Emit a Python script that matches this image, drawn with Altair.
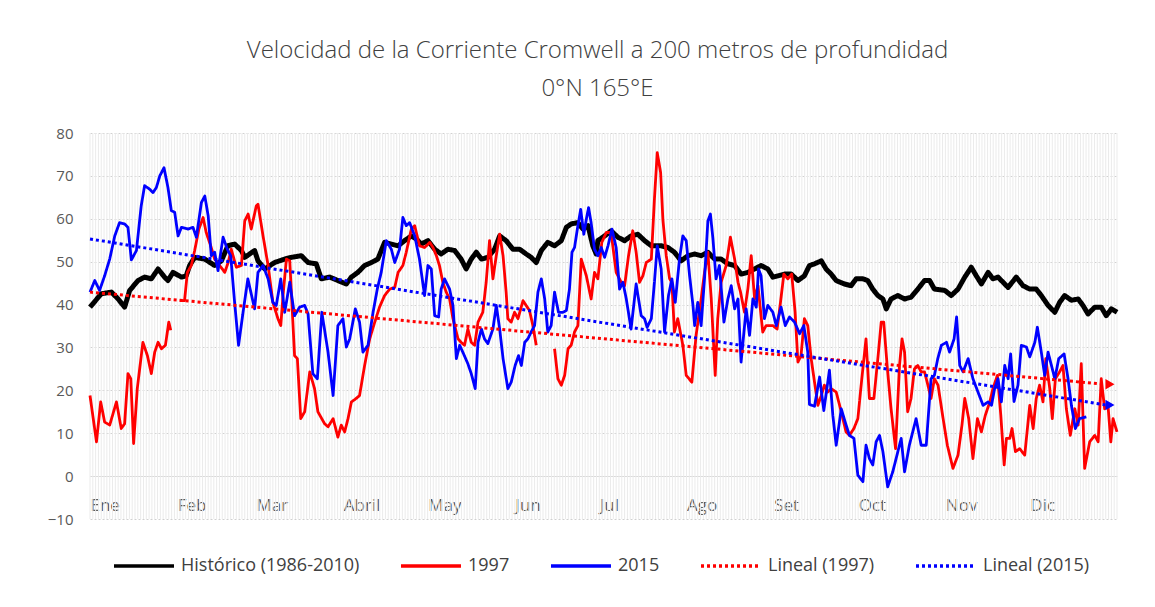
import altair as alt
import pandas as pd

# ---------------- data ----------------
month_names = ["Ene", "Feb", "Mar", "Abril", "May", "Jun", "Jul", "Ago", "Set", "Oct", "Nov", "Dic"]
month_start = [0, 31, 59, 90, 120, 151, 181, 212, 243, 273, 304, 334]
y_ticks = [-10, 0, 10, 20, 30, 40, 50, 60, 70, 80]
series_names = ["Histórico (1986-2010)", "1997", "2015", "Lineal (1997)", "Lineal (2015)"]
series_colors = ["#000000", "#ff0000", "#0000ff", "#ff0000", "#0000ff"]

hist_days = [0, 4.0, 7.6, 10.0, 12.3, 14.1, 17.1, 19.4, 21.8, 24.2, 26.5, 27.7, 29.5, 32.5, 34.2, 35.4,
             37.2, 40.8, 44.3, 46.7, 49.0, 51.4, 53.8, 55.0, 58.5, 59.7, 62.1, 65.6, 69.2, 71.5, 75.1,
             77.5, 80.4, 82.2, 85.2, 88.1, 91.1, 92.9, 95.2, 97.6, 100.0, 102.3, 104.7, 107.1, 109.5,
             111.8, 114.2, 116.0, 117.7, 120.1, 122.5, 124.8, 127.2, 129.6, 131.9, 133.7, 135.5, 137.3,
             139.1, 141.4, 143.8, 145.6, 147.9, 150.3, 152.7, 155.0, 156.8, 158.6, 160.4, 162.7, 165.1,
             167.5, 169.3, 171.0, 173.4, 175.2, 177.0, 178.7, 179.9, 180.5, 182.9, 185.2, 187.6, 190.0,
             192.3, 194.7, 197.1, 199.5, 203.0, 205.4, 207.7, 210.1, 212.5, 214.9, 217.2, 219.6, 222.0,
             224.3, 226.7, 229.1, 231.4, 233.8, 236.2, 238.5, 240.9, 242.7, 244.5, 246.8, 249.2, 251.6,
             253.9, 255.7, 257.5, 259.9, 261.6, 263.4, 265.2, 268.1, 270.5, 272.3, 274.7, 276.4, 278.2,
             280.0, 281.8, 283.0, 284.7, 287.1, 289.5, 291.8, 294.2, 296.6, 298.4, 300.1, 303.8, 306.1,
             308.5, 310.9, 313.2, 315.0, 316.8, 319.2, 320.9, 322.7, 324.5, 326.3, 329.2, 331.6, 334.0,
             336.3, 338.1, 340.5, 342.9, 344.6, 346.4, 348.8, 351.2, 352.9, 354.7, 357.1, 359.4, 361.2,
             363.0, 365.0]
hist_vals = [39.4, 42.5, 42.9, 41.3, 39.4, 43.3, 45.6, 46.4, 46.0, 48.3, 46.4, 45.6, 47.5, 46.4, 46.7, 49.1,
             51.0, 50.6, 49.1, 50.2, 53.7, 54.1, 52.6, 51.0, 52.6, 50.2, 48.3, 49.8, 50.6, 51.0, 51.4,
             49.8, 49.5, 46.0, 46.4, 45.6, 44.8, 46.4, 47.5, 49.1, 49.8, 50.6, 54.5, 54.1, 53.7,
             54.9, 56.0, 55.3, 54.1, 54.9, 52.9, 51.8, 52.9, 52.6, 50.6, 48.3, 50.6, 52.2,
             50.6, 51.0, 52.9, 56.0, 54.9, 52.9, 52.9, 51.8, 51.0, 49.8, 52.6, 54.5, 53.7,
             54.9, 58.0, 58.8, 59.1, 57.6, 58.4, 53.7, 51.8, 54.9, 56.0, 57.2, 55.7, 54.9,
             56.0, 56.4, 54.9, 53.7, 53.7, 53.3, 52.2, 50.2, 51.4, 51.8, 51.4, 52.2, 50.6,
             50.6, 49.5, 49.1, 47.1, 47.5, 48.3, 49.1, 48.3, 46.4, 46.7, 47.1, 47.1, 45.6,
             46.7, 49.1, 49.5, 50.2, 48.3, 47.1, 45.6, 44.8, 44.4, 46.0, 46.0, 45.6, 43.6,
             42.1, 41.3, 39.0, 41.3, 42.1, 41.3, 41.7, 43.6, 45.6, 45.6, 43.6, 43.3, 42.1,
             43.6, 46.4, 48.7, 46.7, 44.8, 47.5, 46.0, 46.4, 45.2, 44.0, 46.4, 44.4, 43.6,
             43.6, 42.1, 39.8, 38.2, 40.5, 42.1, 41.0, 41.3, 39.8, 37.8, 39.4, 39.4, 37.4,
             39.0, 38.2]

y2015_days = [0, 1.7, 3.4, 5.2, 7.0, 8.8, 10.5, 12.3, 13.5, 14.7, 16.5, 18.2, 19.4, 21.2, 22.4, 23.6, 24.8,
              26.3, 27.7, 28.9, 30.1, 31.3, 32.5, 34.8, 36.6, 37.8, 39.6, 40.8, 42.0, 43.1, 44.3, 45.5,
              47.3, 48.8, 50.0, 51.4, 52.8, 54.4, 56.1, 58.5, 59.7, 61.5, 63.3, 65.0, 66.2, 67.8, 69.2,
              71.0, 72.7, 74.5, 76.3, 77.5, 79.2, 80.8, 82.4, 84.6, 86.4, 88.1, 89.9, 91.1, 92.3, 94.3,
              95.8, 97.0, 98.8, 100.6, 102.1, 103.5, 105.3, 107.1, 108.3, 110.0, 111.2, 112.4, 113.6,
              115.4, 117.1, 118.9, 120.1, 121.3, 122.5, 123.9, 124.8, 126.0, 127.8, 129.0, 130.2, 131.4,
              132.5, 134.3, 135.5, 136.9, 137.9, 139.1, 140.2, 141.4, 143.2, 144.4, 145.6, 146.8, 148.5,
              149.7, 151.1, 152.3, 153.3, 154.5, 155.6, 156.8, 158.0, 159.2, 160.4, 161.6, 162.7, 163.9,
              165.1, 166.5, 168.1, 169.3, 170.4, 171.3, 172.2, 173.4, 174.4, 175.5, 176.4, 177.2, 178.1,
              179.3, 180.5, 181.7, 182.9, 184.1, 185.5, 187.0, 188.2, 189.4, 190.6, 192.3, 194.1, 195.9,
              197.1, 198.0, 199.5, 200.6, 201.6, 203.0, 204.2, 205.6, 206.8, 208.0, 209.5, 210.7, 211.9,
              213.1, 214.3, 214.9, 216.0, 217.2, 218.4, 219.6, 220.5, 221.4, 222.5, 223.7, 225.3, 226.7,
              227.9, 229.1, 230.3, 231.4, 233.2, 234.4, 235.6, 236.8, 237.6, 238.5, 239.7, 240.9, 242.7,
              243.9, 245.6, 247.1, 248.6, 250.4, 252.2, 253.7, 255.1, 255.7, 257.5, 259.3, 260.8, 262.8,
              264.0, 265.2, 267.0, 268.4, 269.9, 271.5, 272.9, 274.7, 275.8, 277.0, 278.2, 279.4, 280.6,
              281.8, 283.5, 285.3, 286.5, 288.3, 289.5, 291.2, 293.6, 295.4, 297.2, 298.9, 300.1, 301.3,
              302.6, 304.4, 305.5, 307.1, 308.0, 309.1, 310.3, 312.1, 313.8, 315.6, 317.4, 319.2, 320.4,
              321.5, 322.7, 323.9, 325.1, 326.3, 327.2, 328.4, 329.8, 331.0, 332.8, 334.0, 335.8, 336.7,
              338.1, 339.3, 340.5, 341.7, 342.9, 344.3, 346.2, 347.6, 348.8, 350.2, 351.7, 354.1]
y2015_vals = [42.9, 45.6, 43.3, 46.7, 50.6, 56.0, 59.1, 58.8, 58.0, 50.4, 52.6, 63.0, 67.7, 66.9, 66.1, 67.3, 70.0,
              71.9, 67.3, 61.9, 61.5, 56.0, 58.0, 57.6, 58.0, 55.7, 63.8, 65.3, 60.7, 51.4, 52.2, 47.9,
              55.7, 52.9, 51.4, 40.5, 30.5, 38.2, 46.0, 39.0, 47.5, 49.1, 46.0, 40.5, 39.8, 46.0, 38.2,
              45.2, 37.4, 39.4, 39.8, 37.8, 23.9, 22.7, 38.2, 28.9, 18.8, 35.1, 36.7, 30.1, 32.0, 39.0,
              35.9, 28.9, 30.5, 38.2, 43.6, 47.5, 54.9, 52.9, 49.8, 52.9, 60.3, 58.4, 59.1,
              56.0, 50.6, 42.1, 49.1, 48.3, 37.4, 37.1, 43.6, 46.0, 43.6, 39.8, 27.4, 30.5,
              28.9, 26.2, 23.9, 20.4, 31.2, 34.3, 32.0, 30.9, 34.3, 39.8, 34.3, 27.4, 20.4,
              21.9, 25.8, 28.1, 25.8, 31.2, 32.0, 33.6, 35.1, 42.9, 46.0, 41.3, 33.6, 35.1,
              42.9, 38.2, 38.2, 38.6, 43.6, 52.2, 53.3, 58.4, 62.2, 56.4, 59.9, 62.6, 59.1,
              52.9, 51.4, 53.3, 51.0, 53.7, 57.6, 53.3, 43.6, 45.2, 41.3, 34.3, 44.8, 37.4,
              36.7, 34.7, 36.7, 45.2, 53.7, 48.3, 33.6, 42.1, 46.0, 40.5, 50.6, 56.0, 54.9,
              46.7, 39.8, 35.1, 40.5, 35.1, 46.0, 59.5, 61.1, 55.3, 46.0, 49.1, 35.9, 41.3,
              44.4, 39.0, 41.3, 26.6, 39.0, 32.8, 41.3, 39.4, 48.3, 46.7, 36.7, 39.8, 38.2,
              35.1, 39.4, 35.1, 37.1, 35.9, 33.2, 35.1, 28.9, 16.7, 16.3, 23.1, 15.3, 24.7,
              14.2, 7.2, 15.7, 12.6, 9.5, 8.8, 0.2, -1.3, 7.2, 4.1, 2.6, 8.0, 9.5,
              5.7, -2.5, 1.0, 4.1, 8.8, 1.0, 7.2, 13.4, 7.2, 7.2, 22.7, 23.5, 27.4,
              30.5, 31.2, 28.9, 32.0, 37.1, 25.8, 24.3, 27.4, 22.7, 19.6, 16.5, 17.3, 16.5,
              20.4, 22.7, 17.3, 25.8, 22.7, 28.5, 17.4, 21.2, 30.5, 30.1, 27.8, 31.2, 34.7,
              28.9, 23.5, 28.9, 25.8, 22.7, 27.4, 28.5, 22.7, 16.5, 11.1, 13.4, 13.8]

# 1997 has two gaps, so it is kept as three pieces
y1997_a_days = [0, 2.3, 3.8, 5.2, 7.0, 9.4, 11.1, 12.3, 13.5, 14.5, 15.5, 16.8, 18.8, 20.4, 21.8, 23.0,
                24.2, 25.4, 26.8, 28.0, 28.7]
y1997_a_vals = [18.8, 8.0, 17.3, 12.6, 11.9, 17.3, 11.1, 12.2, 23.9, 22.7, 7.6, 20.4, 31.2, 28.1, 23.9, 28.9,
                31.2, 29.7, 30.5, 35.9, 34.0]
y1997_b_days = [31.9, 33.6, 34.6, 36.0, 37.2, 38.7, 40.2, 41.3, 42.9, 44.3, 46.1, 47.9, 49.1, 50.2, 52.0,
                53.8, 55.0, 56.2, 57.3, 59.1, 59.7, 61.5, 63.3, 65.0, 66.8, 67.8, 68.6, 69.8, 71.0, 72.7,
                73.7, 74.9, 76.3, 78.1, 79.8, 81.0, 83.4, 84.6, 86.4, 88.1, 89.3, 90.5, 91.7, 92.9, 94.6,
                95.8, 97.6, 99.4, 101.2, 102.9, 104.7, 106.5, 108.3, 109.5, 111.2, 112.4, 114.2, 115.4,
                117.1, 118.9, 120.8, 121.9, 123.1, 124.2, 125.4, 126.6, 127.8, 129.0, 130.8, 131.9, 133.1,
                134.3, 135.5, 136.7, 137.9, 139.6, 140.8, 142.0, 143.2, 144.4, 145.6, 146.8, 147.9, 148.5,
                149.7, 150.9, 152.1, 153.9, 155.0, 156.2, 157.4, 158.6]
y1997_b_vals = [40.9, 40.9, 47.5, 49.1, 52.6, 57.6, 60.3, 56.8, 53.7, 50.6, 49.1, 47.5, 49.8, 52.9, 48.7,
                49.1, 59.5, 61.1, 57.6, 63.0, 63.4, 56.0, 49.1, 40.5, 36.7, 35.1, 42.1, 50.6, 50.2, 28.1,
                27.4, 13.4, 15.0, 24.3, 20.4, 15.0, 12.2, 11.5, 13.4, 9.1, 11.9, 10.3, 13.4, 17.3, 18.1,
                18.8, 25.8, 32.0, 35.9, 39.4, 42.1, 43.6, 44.0, 47.5, 49.1, 52.2, 57.6, 58.4,
                53.7, 53.3, 54.5, 53.3, 51.4, 49.1, 45.2, 42.9, 41.3, 36.7, 32.0, 31.2, 30.5,
                34.3, 31.2, 30.5, 35.9, 38.2, 45.2, 54.9, 46.0, 51.4, 56.4, 51.4, 42.9, 36.7,
                35.9, 38.2, 36.7, 40.9, 39.8, 38.6, 35.1, 30.5]
y1997_c_days = [165.1, 166.3, 167.5, 168.7, 169.9, 171.0, 172.2, 173.4, 174.6, 176.4, 178.1, 179.3, 180.5,
                181.9, 183.5, 185.2, 187.0, 188.8, 190.0, 191.4, 192.9, 194.1, 195.3, 196.5, 197.7, 199.5,
                200.6, 201.6, 202.8, 203.6, 204.8, 206.0, 206.8, 207.7, 208.9, 210.7, 211.9, 213.9, 215.4,
                217.2, 218.4, 219.6, 220.8, 222.2, 223.1, 224.3, 226.1, 227.6, 229.1, 230.3, 231.2, 232.6,
                233.8, 235.0, 236.2, 237.4, 239.1, 240.3, 242.7, 244.2, 245.4, 246.6, 248.0, 249.4, 250.6,
                251.6, 252.7, 253.9, 255.1, 256.3, 257.5, 258.7, 259.9, 261.0, 262.2, 263.4, 265.2, 267.0,
                268.7, 269.9, 271.5, 272.9, 274.3, 275.8, 277.0, 278.6, 280.0, 281.2, 282.1, 283.3, 284.7,
                286.3, 287.7, 288.6, 289.5, 290.6, 291.8, 293.0, 294.2, 295.4, 296.6, 297.8, 298.9, 300.1,
                301.4, 303.2, 304.7, 306.7, 308.5, 309.9, 310.9, 312.3, 313.8, 315.4, 316.8, 318.2, 319.8,
                320.9, 322.5, 323.7, 324.9, 325.7, 326.9, 327.7, 328.9, 330.4, 332.2, 334.0, 335.2, 336.3,
                337.5, 338.7, 339.7, 341.1, 342.0, 343.1, 344.6, 345.8, 347.0, 348.4, 350.0, 351.2, 352.3,
                353.5, 355.3, 357.1, 358.3, 359.4, 360.6, 361.8, 362.8, 363.6, 365.0]
y1997_c_vals = [29.7, 22.7, 21.2, 23.5, 29.7, 30.5, 33.6, 35.1, 50.6, 46.7, 41.3, 47.5, 46.0,
                54.5, 56.8, 56.8, 47.5, 45.2, 44.4, 51.4, 57.2, 52.2, 45.2, 46.7, 49.8, 50.6,
                64.6, 75.4, 70.8, 59.9, 51.4, 46.0, 45.2, 33.6, 36.7, 30.5, 23.5, 21.9, 32.8,
                41.3, 47.5, 52.2, 41.3, 23.5, 36.7, 45.2, 49.1, 55.7, 50.6, 45.2, 42.9, 38.2,
                43.6, 51.4, 41.3, 44.4, 33.6, 35.1, 35.1, 34.3, 40.5, 47.1, 46.0, 47.1, 38.2,
                26.6, 28.1, 36.7, 35.1, 27.4, 21.9, 16.5, 18.8, 21.2, 19.6, 20.4, 19.6, 15.0,
                10.3, 9.5, 11.1, 13.4, 22.7, 32.0, 18.1, 18.1, 27.4, 35.9, 35.9, 25.8, 15.7,
                6.4, 25.8, 32.0, 28.9, 15.0, 18.1, 25.0, 25.8, 24.3, 24.3, 21.2, 18.1, 22.7,
                21.2, 13.4, 7.2, 1.8, 4.9, 11.9, 18.1, 13.4, 4.1, 13.4, 10.3, 14.2, 17.3,
                20.4, 23.5, 14.2, 2.6, 8.8, 8.8, 11.1, 5.7, 6.4, 4.9, 16.5, 11.1, 18.1,
                21.2, 17.3, 27.4, 20.4, 13.4, 22.7, 24.3, 25.8, 15.7, 9.5, 15.7, 11.9, 26.2,
                1.8, 8.0, 9.5, 8.0, 22.7, 15.7, 16.5, 8.0, 13.4, 10.3]

# linear trend lines (end points) and their arrow heads
trend_days = [0, 361]
trend_1997 = [42.9, 21.4]
trend_2015 = [55.3, 16.6]
arrow_day = [362.5]

stripe_days = list(range(0, 366))

# ---------------- build tables ----------------
rows = []
def add(name, seg, days, vals):
    for d, v in zip(days, vals):
        rows.append({"day": d, "value": v, "series": name, "seg": seg})

add(series_names[0], "h", hist_days, hist_vals)
add(series_names[1], "a", y1997_a_days, y1997_a_vals)
add(series_names[1], "b", y1997_b_days, y1997_b_vals)
add(series_names[1], "c", y1997_c_days, y1997_c_vals)
add(series_names[2], "s", y2015_days, y2015_vals)
add(series_names[3], "t1", trend_days, trend_1997)
add(series_names[4], "t2", trend_days, trend_2015)
df = pd.DataFrame(rows)

stripes = pd.DataFrame({"day": stripe_days})
arrows = pd.DataFrame({
    "day": arrow_day * 2,
    "value": [trend_1997[-1], trend_2015[-1]],
    "series": [series_names[3], series_names[4]],
})

W, H = 1027, 386
FONT = "Open Sans"
label_expr = "{" + ",".join(f"'{d}':'{n}'" for d, n in zip(month_start, month_names)) + "}[datum.value]"

x_enc = alt.X("day:Q",
              scale=alt.Scale(domain=[0, 365], nice=False, zero=False),
              axis=alt.Axis(values=month_start, labelExpr=label_expr, grid=False, ticks=False, tickSize=0,
                            domain=True, domainColor="#d9d9d9", domainWidth=1.2,
                            offset=-round(H * 10 / 90), labelAlign="left", labelPadding=21,
                            labelFontSize=17, labelColor="#595959", labelFont=FONT, title=None))
y_enc = alt.Y("value:Q",
              scale=alt.Scale(domain=[-10, 80], nice=False),
              axis=alt.Axis(values=y_ticks, grid=True, gridDash=[2, 2], gridColor="#d0d0d0",
                            domain=False, ticks=False, labelPadding=17, labelFontSize=15,
                            labelColor="#595959", labelFont=FONT, title=None))

legend = alt.Legend(orient="none", legendX=22, legendY=401, direction="horizontal", title=None,
                    symbolType="stroke", symbolSize=3600, symbolStrokeWidth=3.5,
                    labelFontSize=18, labelFont=FONT, labelColor="#404040", columnPadding=34,
                    labelOffset=5, labelLimit=400)
color_enc = alt.Color("series:N", scale=alt.Scale(domain=series_names, range=series_colors), legend=legend)
dash_enc = alt.StrokeDash("series:N",
                          scale=alt.Scale(domain=series_names, range=[[1, 0], [1, 0], [1, 0], [3, 3], [3, 3]]),
                          legend=legend)

base = alt.Chart(df).encode(x=x_enc, y=y_enc, color=color_enc, strokeDash=dash_enc, detail="seg:N")

stripe_layer = alt.Chart(stripes).mark_rule(color="#ebebeb", strokeWidth=1).encode(
    x=alt.X("day:Q", scale=alt.Scale(domain=[0, 365], nice=False, zero=False)))

hist_layer = base.transform_filter(alt.datum.series == series_names[0]).mark_line(strokeWidth=5, strokeJoin="round")
y97_layer = base.transform_filter(alt.datum.series == series_names[1]).mark_line(strokeWidth=2.8, strokeJoin="round")
y15_layer = base.transform_filter(alt.datum.series == series_names[2]).mark_line(strokeWidth=2.8, strokeJoin="round")
trend_layer = base.transform_filter(
    (alt.datum.series == series_names[3]) | (alt.datum.series == series_names[4])
).mark_line(strokeWidth=3, strokeCap="butt")

arrow97 = alt.Chart(arrows).transform_filter(alt.datum.series == series_names[3]).mark_point(
    shape="triangle-right", filled=True, size=110, opacity=1, color="#ff0000").encode(x="day:Q", y="value:Q")
arrow15 = alt.Chart(arrows).transform_filter(alt.datum.series == series_names[4]).mark_point(
    shape="triangle-right", filled=True, size=110, opacity=1, color="#0000ff").encode(x="day:Q", y="value:Q")

chart = alt.layer(
    stripe_layer, hist_layer, y97_layer, y15_layer, trend_layer, arrow97, arrow15
).properties(
    width=W, height=H,
    title=alt.TitleParams(
        text=["Velocidad de la Corriente Cromwell a 200 metros de profundidad", "0°N 165°E"],
        font=FONT, fontSize=24, fontWeight=300, color="#404040", lineHeight=38,
        anchor="middle", offset=25, dx=-6),
    padding={"left": 82, "top": 125, "right": 30, "bottom": 80},
    autosize=alt.AutoSizeParams(type="none"),
    background="white",
).configure_view(stroke=None)

chart.save("out.html", embed_options={"renderer": "svg", "actions": False})
